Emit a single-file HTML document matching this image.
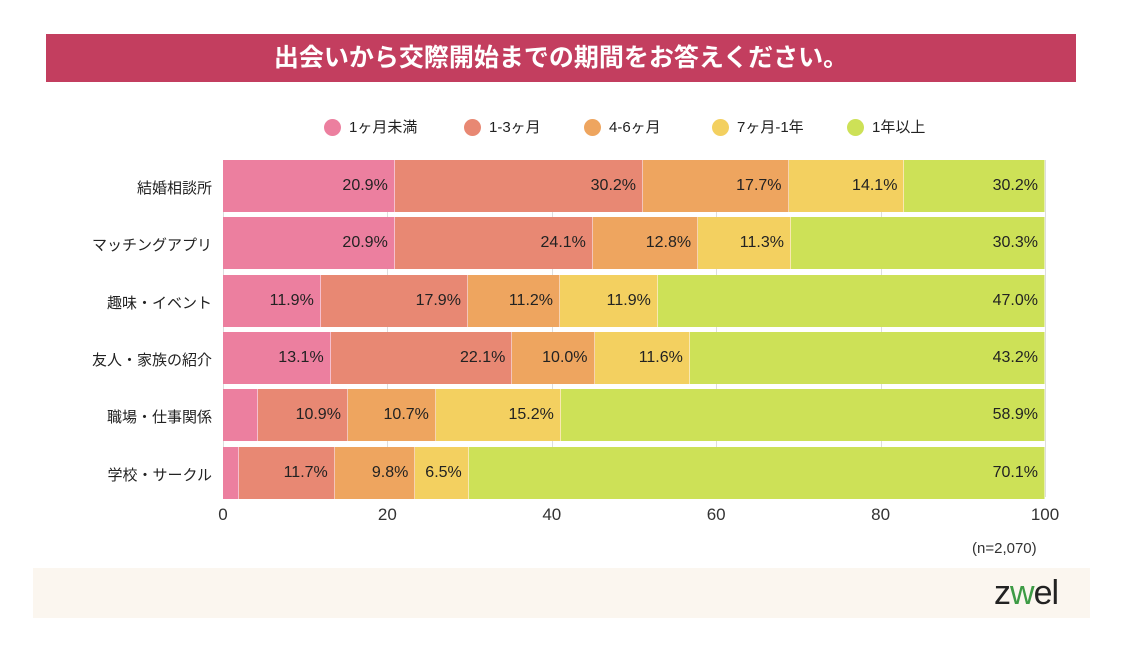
<!DOCTYPE html>
<html><head><meta charset="utf-8"><style>
body{margin:0;width:1126px;height:656px;background:#fff;position:relative;overflow:hidden;font-family:"Liberation Sans","Noto Sans CJK JP",sans-serif;color:#222}
.a{position:absolute}
.title{left:46px;top:34px;width:1030px;height:48px;background:#c33e5f;color:#fff;font-size:25px;font-weight:bold;text-align:center;line-height:48px}
.seg{position:absolute;box-sizing:border-box;border-right:1px solid rgba(255,255,255,0.5);font-size:16px;text-align:right;padding-right:6px;color:#222}
.cat{position:absolute;right:914px;font-size:15px;text-align:right;white-space:nowrap}
.grid{position:absolute;top:160px;height:337px;width:1px;background:#ddd}
.tick{position:absolute;top:505px;font-size:17px;width:60px;margin-left:-30px;text-align:center;color:#333}
.lg{position:absolute;top:119px;font-size:15px;line-height:17px;white-space:nowrap}
.lg i{display:inline-block;width:17px;height:17px;border-radius:50%;vertical-align:top;margin-right:8px}
</style></head><body>
<div class="a title">出会いから交際開始までの期間をお答えください。</div>
<div class="lg" style="left:324px"><i style="background:#ec7f9f"></i>1ヶ月未満</div>
<div class="lg" style="left:464px"><i style="background:#e88873"></i>1-3ヶ月</div>
<div class="lg" style="left:584px"><i style="background:#eea55f"></i>4-6ヶ月</div>
<div class="lg" style="left:712px"><i style="background:#f3d060"></i>7ヶ月-1年</div>
<div class="lg" style="left:847px"><i style="background:#cde157"></i>1年以上</div>
<div id="c"></div>
<div class="a" style="left:972px;top:540px;font-size:15px;color:#333">(n=2,070)</div>
<div class="a" style="left:33px;top:568px;width:1057px;height:50px;background:#fbf6ef"></div>
<div class="a" style="left:994px;top:574px;font-size:34px;color:#222;letter-spacing:-1px">z<span style="color:#3d9b45">w</span>el</div>
<script>
var x0=223,W=822,cols=["#ec7f9f","#e88873","#eea55f","#f3d060","#cde157"];
var rows=[["結婚相談所",[20.9,30.2,17.7,14.1,30.2]],["マッチングアプリ",[20.9,24.1,12.8,11.3,30.3]],["趣味・イベント",[11.9,17.9,11.2,11.9,47.0]],["友人・家族の紹介",[13.1,22.1,10.0,11.6,43.2]],["職場・仕事関係",[4.3,10.9,10.7,15.2,58.9]],["学校・サークル",[1.9,11.7,9.8,6.5,70.1]]];
var h="";
for(var g=0;g<=100;g+=20){h+='<div class="grid" style="left:'+(x0+W*g/100)+'px"></div><div class="tick" style="left:'+(x0+W*g/100)+'px">'+g+'</div>';}
rows.forEach(function(r,i){var top=160+i*57.3,cum=0;
h+='<div class="cat" style="top:'+(top+17)+'px">'+r[0]+'</div>';
r[1].forEach(function(v,j){var l=x0+W*cum/100,w=(j==4)?(x0+W-l):W*v/100;cum+=v;
var lab=v>=5?v.toFixed(1)+'%':'';
h+='<div class="seg" style="left:'+l+'px;width:'+w+'px;top:'+top+'px;height:52px;line-height:52px;background:'+cols[j]+'">'+lab+'</div>';});});
document.getElementById('c').innerHTML=h;
</script>
</body></html>
